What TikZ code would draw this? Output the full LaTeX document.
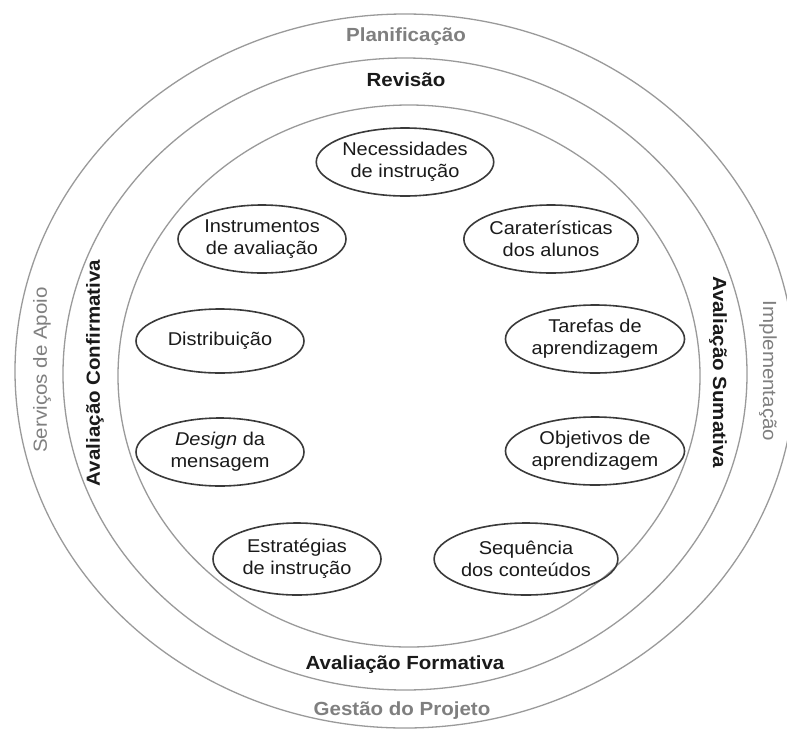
\documentclass[tikz,border=0pt]{standalone}
\usepackage{fontspec}
\setmainfont[FakeStretch=1.08]{Liberation Sans}
\usetikzlibrary{shapes.geometric}
\definecolor{ringgray}{HTML}{9A9A9A}
\definecolor{ellgray}{HTML}{3A3A3A}
\definecolor{txtgray}{HTML}{7F7F7F}
\definecolor{txtblack}{HTML}{1A1A1A}
\begin{document}
\begin{tikzpicture}[x=1pt,y=-1pt,
  ring/.style={draw=ringgray, line width=1.3pt},
  topic/.style={ellipse, draw=ellgray, line width=1.6pt, minimum width=168pt, minimum height=68pt,
    inner sep=0pt, align=center, text=txtblack, font=\fontsize{18.5}{22}\selectfont},
  graybold/.style={text=txtgray, font=\fontsize{19}{22}\selectfont\bfseries, inner sep=0pt},
  grayreg/.style={text=txtgray, font=\fontsize{19}{22}\selectfont, inner sep=0pt},
  blackbold/.style={text=txtblack, font=\fontsize{19}{22}\selectfont\bfseries, inner sep=0pt}]
\useasboundingbox (0,0) rectangle (787,729);
\fill[white] (0,0) rectangle (787,729);
\begin{scope}
\clip (0,0) rectangle (787,729);
\draw[ring] (405,371) ellipse [x radius=390pt, y radius=357pt];
\draw[ring] (405,374) ellipse [x radius=342pt, y radius=316pt];
\draw[ring] (409,376) ellipse [x radius=291pt, y radius=271pt];
\end{scope}
% ring labels
\node[graybold] (plan) at (406,37) {Planificação};
\node[blackbold] (rev) at (406,80) {Revisão};
\node[blackbold] (form) at (405,665) {Avaliação Formativa};
\node[graybold] (gest) at (402,711) {Gestão do Projeto};
\node[grayreg, rotate=90] (serv) at (42,370) {Serviços de Apoio};
\node[blackbold, rotate=90] (conf) at (95,373) {Avaliação Confirmativa};
\node[blackbold, rotate=-90] (suma) at (718,372) {Avaliação Sumativa};
\node[grayreg, rotate=-90] (impl) at (768,371) {Implementação};
% topic ellipses
\node[topic] (nec) at (405,162) {Necessidades\\de instrução};
\node[topic] (ins) at (262,239) {Instrumentos\\de avaliação};
\node[topic] (car) at (551,239) {Caraterísticas\\dos alunos};
\node[topic, minimum height=64pt] (dis) at (220,341) {Distribuição};
\node[topic] (tar) at (595,339) {Tarefas de\\aprendizagem};
\node[topic] (des) at (220,452) {\textit{Design} da\\mensagem};
\node[topic] (obj) at (595,451) {Objetivos de\\aprendizagem};
\node[topic, minimum height=72pt] (est) at (297,559) {Estratégias\\de instrução};
\node[topic, minimum height=72pt] (seq) at (526,559) {Sequência\\dos conteúdos};
\end{tikzpicture}
\end{document}
